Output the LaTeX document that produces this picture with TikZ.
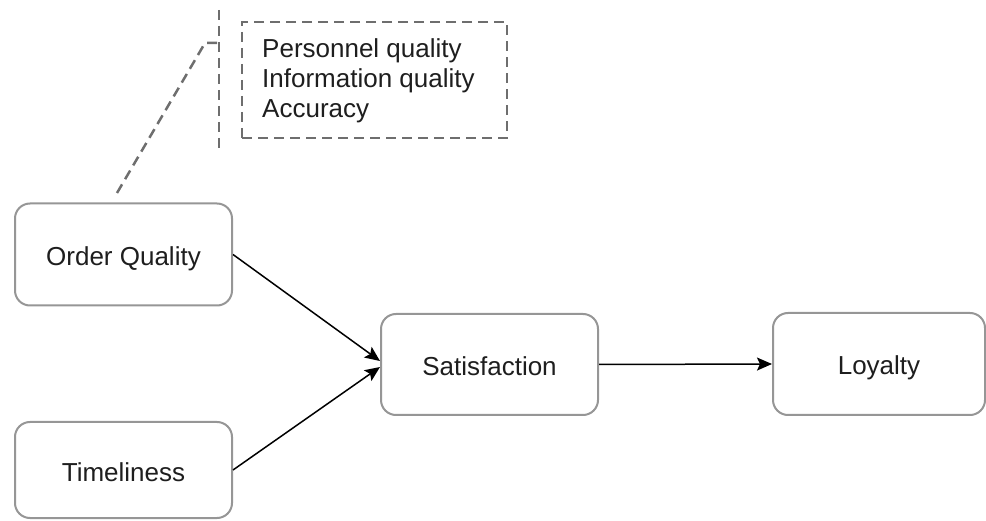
\documentclass[tikz,border=0pt]{standalone}
\usepackage{fontspec}
\setmainfont{Liberation Sans}
\usetikzlibrary{arrows.meta}
\definecolor{boxline}{RGB}{150,150,150}
\definecolor{dashline}{RGB}{110,110,110}
\definecolor{txt}{RGB}{30,30,30}
\tikzset{
  box/.style={draw=boxline, line width=2pt, rounded corners=15pt, fill=white,
    minimum width=217pt, minimum height=102pt, inner sep=0pt, text=txt,
    text height=22pt, text depth=0pt,
    font=\fontsize{26}{30}\selectfont},
  conn/.style={draw=black, line width=1.5pt, -{Stealth[length=15pt,width=13pt,inset=3pt]}},
  dashy/.style={draw=dashline, line width=2.5pt, dash pattern=on 10pt off 6pt}
}
\begin{document}
\begin{tikzpicture}[x=1pt,y=-1pt]
\useasboundingbox (0,0) rectangle (986,521);
\node[box] (oq) at (123.5,254.5) {Order Quality};
\node[box, minimum height=96pt] (tl) at (123.5,470) {Timeliness};
\node[box, minimum height=101pt] (sat) at (489.5,364.5) {Satisfaction};
\node[box, minimum width=212pt] (loy) at (879,364) {Loyalty};
% annotation
\node[dashy, minimum width=265pt, minimum height=116pt, inner sep=0pt] (ann) at (374.5,80) {};
\node[anchor=north west, inner sep=0pt, align=left, text=txt,
  font=\fontsize{26}{30}\selectfont] (anntext) at (262,38)
  {Personnel quality\\Information quality\\Accuracy};
\coordinate (brT) at (219,10);
\coordinate (brB) at (219,150);
\coordinate (brM) at (219,43);
\coordinate (dB) at (117,193);
\coordinate (tick) at (205,43);
\draw[dashy] (brT) -- (brB);
\draw[dashy] (dB) -- (tick) -- (brM);
% connectors
\draw[conn] (oq.east) -- ([yshift=3.5pt]sat.west);
\draw[conn] (tl.east) -- ([yshift=-2.5pt]sat.west);
\draw[conn] (sat.east) -- (loy.west);
\end{tikzpicture}
\end{document}
